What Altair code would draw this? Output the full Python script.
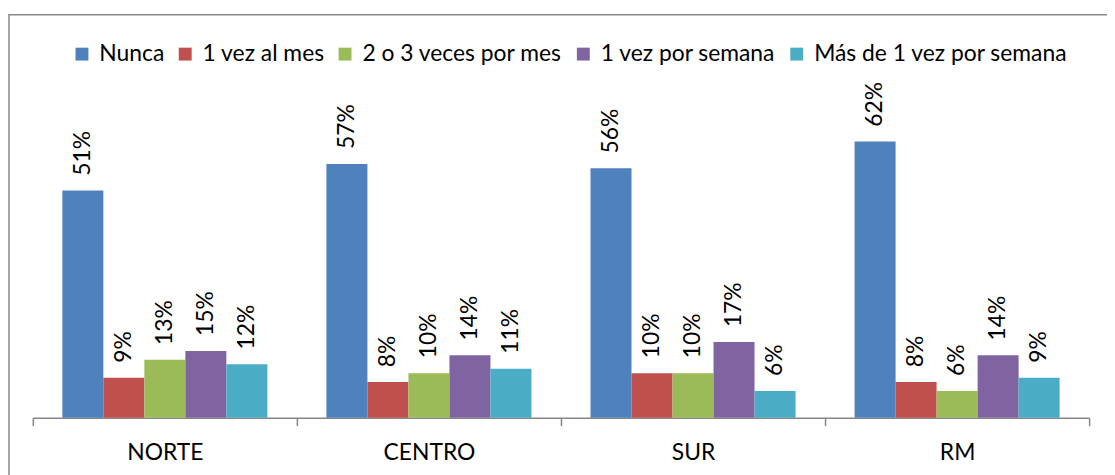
import altair as alt
import pandas as pd

regions = ["NORTE", "CENTRO", "SUR", "RM"]
series = ["Nunca", "1 vez al mes", "2 o 3 veces por mes", "1 vez por semana", "Más de 1 vez por semana"]
colors = ["#4F81BD", "#C0504D", "#9BBB59", "#8064A2", "#4BACC6"]
nunca = [51, 57, 56, 62]
vez_mes = [9, 8, 10, 8]
dos_tres = [13, 10, 10, 6]
vez_semana = [15, 14, 17, 14]
mas_semana = [12, 11, 6, 9]

rows = []
for i, r in enumerate(regions):
    for s, vals in zip(series, [nunca, vez_mes, dos_tres, vez_semana, mas_semana]):
        rows.append({"region": r, "serie": s, "valor": vals[i], "label": f"{vals[i]}%"})
df = pd.DataFrame(rows)

FONT = "Lato"
FS = 23

x_enc = alt.X("region:N", sort=regions,
              scale=alt.Scale(paddingInner=0, paddingOuter=0),
              axis=alt.Axis(title=None, tickBand="extent", labelAngle=0,
                            domainColor="#868686", tickColor="#868686",
                            domainWidth=1.5, tickWidth=1.5, tickSize=8,
                            labelFont=FONT, labelFontSize=FS, labelColor="black",
                            labelPadding=16))
xo_enc = alt.XOffset("serie:N", sort=series,
                     scale=alt.Scale(paddingInner=0, paddingOuter=0.72))
y_enc = alt.Y("valor:Q", scale=alt.Scale(domain=[0, 70]), axis=None)

bars = alt.Chart(df).mark_bar().encode(
    x=x_enc, xOffset=xo_enc, y=y_enc,
    color=alt.Color("serie:N", sort=series,
                    scale=alt.Scale(domain=series, range=colors),
                    legend=alt.Legend(title=None, orient="none", direction="horizontal",
                                      columns=5, legendX=38, legendY=-64,
                                      symbolType="square", symbolSize=169,
                                      symbolStrokeWidth=0, symbolOpacity=1,
                                      labelFont=FONT, labelFontSize=FS,
                                      labelColor="black", labelOffset=6,
                                      columnPadding=9, labelLimit=400)),
)

texts = alt.Chart(df).mark_text(angle=270, align="left", baseline="middle",
                                dx=15, font=FONT, fontSize=FS, color="black").encode(
    x=x_enc, xOffset=xo_enc, y=y_enc, text="label:N"
)

frame = alt.Chart(alt.Data(values=[{}])).mark_rect(
    fill=None, stroke="#888888", strokeWidth=1.5
).encode(x=alt.value(-24), x2=alt.value(1090), y=alt.value(-92), y2=alt.value(380))

chart = alt.layer(frame, bars, texts).properties(
    width=1064, height=314,
    autosize=alt.AutoSizeParams(type="none"),
    padding={"left": 25, "top": 97, "right": 18, "bottom": 56},
).configure_view(stroke=None)

chart.save("out.html", embed_options={"renderer": "svg", "actions": False})
